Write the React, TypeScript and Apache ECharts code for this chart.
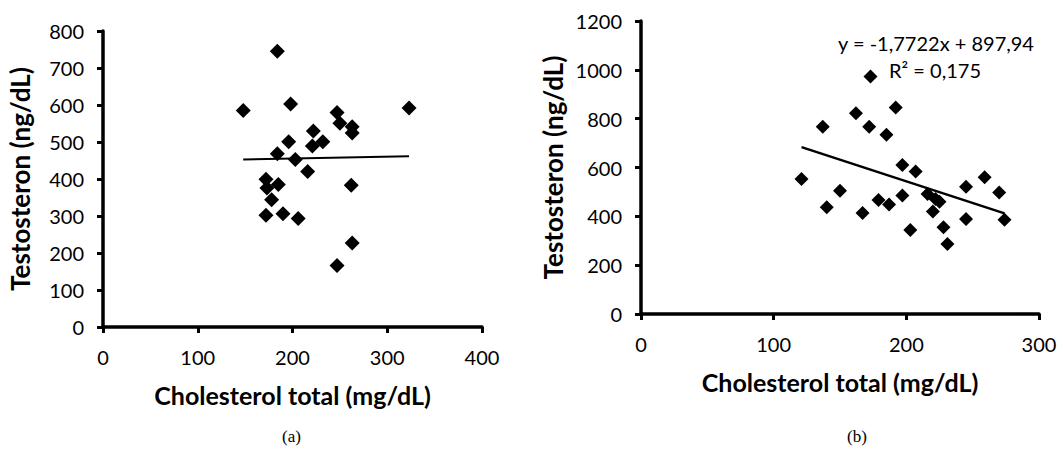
import React, { useEffect, useRef } from "react";
import * as echarts from "echarts";

// Panel (a)
const cholA = [184, 148, 198, 323, 247, 250, 263, 263, 222, 232, 221, 196, 184, 203, 216, 172, 173, 185, 178, 262, 172, 190, 206, 263, 247];
const testoA = [745, 585, 603, 592, 580, 551, 541, 524, 530, 501, 489, 501, 468, 453, 420, 399, 376, 385, 344, 383, 302, 306, 293, 227, 166];
const trendA = { slope: 0.0514, intercept: 445.0 };

// Panel (b)
const cholB = [173, 192, 162, 137, 172, 185, 121, 197, 207, 150, 140, 167, 179, 187, 197, 203, 216, 222, 225, 220, 228, 231, 245, 245, 259, 270, 274];
const testoB = [973, 846, 822, 767, 767, 734, 553, 610, 584, 505, 437, 414, 467, 448, 485, 344, 491, 471, 460, 420, 355, 287, 521, 389, 560, 498, 386];
const trendB = { slope: -1.7722, intercept: 897.94 };

const eqLabel = "y = -1,7722x + 897,94";
const r2Label = "R² = 0,175";
const xTitle = "Cholesterol total (mg/dL)";
const yTitle = "Testosteron (ng/dL)";
const panelLabels = ["(a)", "(b)"];

const FONT = "Lato";

function trendPoints(xs: number[], t: { slope: number; intercept: number }) {
  const lo = Math.min(...xs);
  const hi = Math.max(...xs);
  return [
    [lo, t.slope * lo + t.intercept],
    [hi, t.slope * hi + t.intercept],
  ];
}

const axisLineCfg = { show: true, onZero: false, lineStyle: { color: "#000000", width: 3.5, opacity: 1, type: "solid" } };
const axisTickCfg = { show: true, inside: false, length: 6, lineStyle: { color: "#000000", width: 3, opacity: 1 } };

function xAxisCfg(gridIndex: number, max: number) {
  return {
    gridIndex,
    type: "value",
    position: "bottom",
    min: 0,
    max,
    interval: 100,
    name: xTitle,
    nameLocation: "middle",
    nameGap: 55,
    nameTextStyle: { fontFamily: FONT, fontWeight: "bold", fontSize: 25, color: "#000" },
    axisLine: axisLineCfg,
    axisTick: axisTickCfg,
    axisLabel: { fontFamily: FONT, fontSize: 20, color: "#000", margin: 20, formatter: (v: number) => String(v) },
    splitLine: { show: false },
  };
}

function yAxisCfg(gridIndex: number, max: number, interval: number, gap: number) {
  return {
    gridIndex,
    type: "value",
    position: "left",
    min: 0,
    max,
    interval,
    name: yTitle,
    nameLocation: "middle",
    nameGap: gap,
    nameTextStyle: { fontFamily: FONT, fontWeight: "bold", fontSize: 26, color: "#000" },
    axisLine: axisLineCfg,
    axisTick: axisTickCfg,
    axisLabel: { fontFamily: FONT, fontSize: 20, color: "#000", margin: 19, formatter: (v: number) => String(v) },
    splitLine: { show: false },
  };
}

export default function App() {
  const ref = useRef<HTMLDivElement>(null);
  useEffect(() => {
    document.body.style.margin = "0";
    if (!ref.current) return;
    const chart = echarts.init(ref.current, undefined, { renderer: "svg" });
    const option = {
      animation: false,
      backgroundColor: "#fff",
      grid: [
        { left: 103, top: 31, width: 379, height: 296 },
        { left: 641, top: 21, width: 398, height: 293 },
      ],
      xAxis: [xAxisCfg(0, 400), xAxisCfg(1, 300)],
      yAxis: [yAxisCfg(0, 800, 100, 70), yAxisCfg(1, 1200, 200, 75)],
      series: [
        {
          type: "scatter",
          xAxisIndex: 0,
          yAxisIndex: 0,
          symbol: "diamond",
          symbolSize: 15,
          itemStyle: { color: "#000", opacity: 1 },
          data: cholA.map((x, i) => [x, testoA[i]]),
        },
        {
          type: "line",
          xAxisIndex: 0,
          yAxisIndex: 0,
          showSymbol: false,
          symbol: "none",
          lineStyle: { color: "#000", width: 2 },
          data: trendPoints(cholA, trendA),
        },
        {
          type: "scatter",
          xAxisIndex: 1,
          yAxisIndex: 1,
          symbol: "diamond",
          symbolSize: 14,
          itemStyle: { color: "#000", opacity: 1 },
          data: cholB.map((x, i) => [x, testoB[i]]),
        },
        {
          type: "line",
          xAxisIndex: 1,
          yAxisIndex: 1,
          showSymbol: false,
          symbol: "none",
          lineStyle: { color: "#000", width: 2.5 },
          data: trendPoints(cholB, trendB),
        },
      ],
      graphic: [
        {
          type: "text",
          left: 838,
          top: 33,
          style: { text: eqLabel, fontFamily: FONT, fontSize: 20, fill: "#000" },
        },
        {
          type: "text",
          left: 889,
          top: 60,
          style: { text: r2Label, fontFamily: FONT, fontSize: 20, fill: "#000" },
        },
        {
          type: "text",
          left: 282,
          top: 428,
          style: { text: panelLabels[0], fontFamily: "Liberation Serif", fontSize: 17, fill: "#000" },
        },
        {
          type: "text",
          left: 847,
          top: 428,
          style: { text: panelLabels[1], fontFamily: "Liberation Serif", fontSize: 17, fill: "#000" },
        },
      ],
    };
    chart.setOption(option as any);
    return () => chart.dispose();
  }, []);
  return <div ref={ref} style={{ width: 1062, height: 452 }} />;
}
